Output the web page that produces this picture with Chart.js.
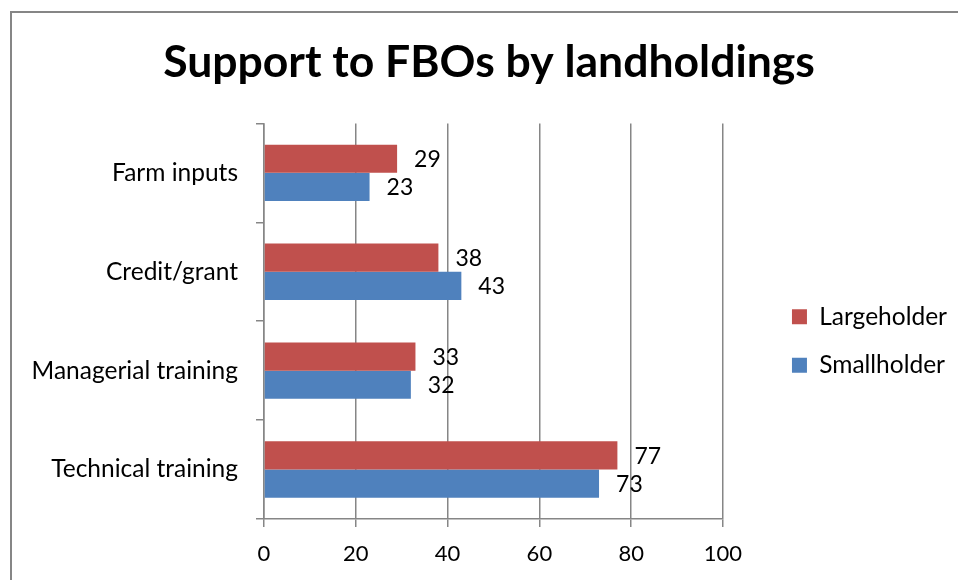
<!DOCTYPE html>
<html>
<head>
<meta charset="utf-8">
<title>Support to FBOs by landholdings</title>
<script src="https://cdn.jsdelivr.net/npm/chart.js@4.4.1/dist/chart.umd.min.js"></script>
<style>
  html, body { margin: 0; padding: 0; background: #fff; overflow: hidden; }
  #frame {
    position: absolute; left: 10px; top: 11px;
    width: 958px; height: 580px;
    border-left: 2px solid #868686; border-top: 2px solid #868686;
  }
  #chart { display: block; width: 958px; height: 580px; }
</style>
</head>
<body>
<div id="frame"><canvas id="chart" width="958" height="580"></canvas></div>
<script>
// ── data ────────────────────────────────────────────────
var categories = ['Farm inputs', 'Credit/grant', 'Managerial training', 'Technical training'];
var largeholder = [29, 38, 33, 77];
var smallholder = [23, 43, 32, 73];
var xTicks = [0, 20, 40, 60, 80, 100];

var RED = '#C0504D';
var BLUE = '#4F81BD';
var GRID = '#868686';
var FONT = 'Lato';

// the right padding pushes the title off centre and the legend too close
// to the plot, so both get moved after layout
var TITLE_DX = 27;
var LEG_DX = 45;
var LEG_DY = 38;

Chart.defaults.font.family = FONT;
Chart.defaults.color = '#000';

// numbers printed just past the end of each bar
var valueLabels = {
  id: 'valueLabels',
  afterDatasetsDraw: function(chart) {
    var ctx = chart.ctx;
    ctx.save();
    ctx.font = '23px ' + FONT;
    ctx.fillStyle = '#000';
    ctx.textAlign = 'left';
    ctx.textBaseline = 'middle';
    chart.data.datasets.forEach(function(ds, i) {
      chart.getDatasetMeta(i).data.forEach(function(bar, j) {
        ctx.fillText(String(ds.data[j]), bar.x + 17, bar.y + 1);
      });
    });
    ctx.restore();
  }
};

var boxNudge = {
  id: 'boxNudge',
  afterLayout: function(chart) {
    var l = chart.legend, t = chart.titleBlock;
    if (l) {
      l.left += LEG_DX; l.right += LEG_DX;
      l.top += LEG_DY; l.bottom += LEG_DY;
    }
    if (t) {
      t.left += TITLE_DX; t.right += TITLE_DX;
    }
  }
};

new Chart(document.getElementById('chart'), {
  type: 'bar',
  data: {
    labels: categories,
    datasets: [
      { label: 'Largeholder', data: largeholder, backgroundColor: RED },
      { label: 'Smallholder', data: smallholder, backgroundColor: BLUE }
    ]
  },
  options: {
    indexAxis: 'y',
    responsive: false,
    animation: false,
    categoryPercentage: 0.57,
    barPercentage: 1.0,
    layout: { padding: { left: 0, top: 0, right: 58, bottom: 0 } },
    plugins: {
      title: {
        display: true,
        text: 'Support to FBOs by landholdings',
        color: '#000',
        font: { family: FONT, size: 44.5, weight: 'bold' },
        padding: { top: 23, bottom: 34 }
      },
      legend: {
        position: 'right',
        labels: {
          boxWidth: 15, boxHeight: 15, padding: 24,
          font: { family: FONT, size: 24.5 }, color: '#000'
        }
      },
      tooltip: { enabled: false }
    },
    scales: {
      x: {
        min: xTicks[0],
        max: xTicks[xTicks.length - 1],
        ticks: { stepSize: 20, padding: 14, font: { size: 22 }, color: '#000' },
        grid: { color: GRID, lineWidth: 1.5, tickLength: 8 },
        border: { color: GRID, width: 1.5 },
        afterFit: function(scale) { scale.height = 74; }
      },
      y: {
        ticks: { padding: 18, font: { size: 24.5 }, color: '#000' },
        grid: { drawOnChartArea: false, color: GRID, lineWidth: 1.5, tickLength: 8 },
        border: { color: GRID, width: 1.5 },
        afterFit: function(scale) { scale.width = 252; }
      }
    }
  },
  plugins: [valueLabels, boxNudge]
});
</script>
</body>
</html>
